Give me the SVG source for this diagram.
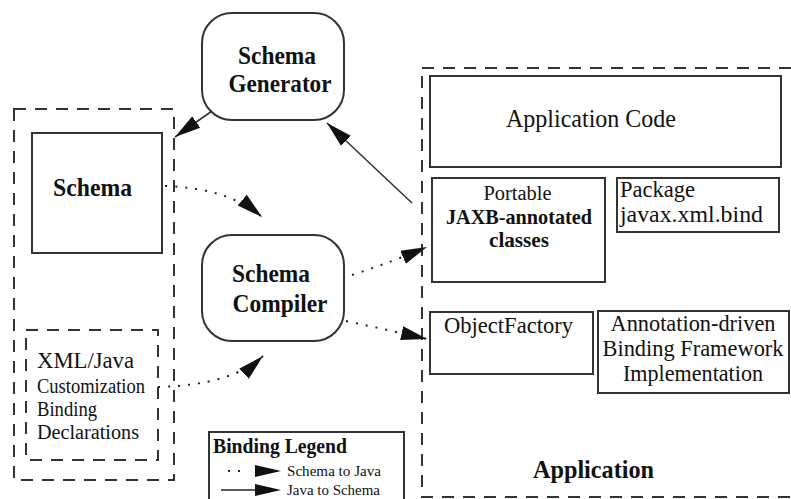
<svg xmlns="http://www.w3.org/2000/svg" width="791" height="499" viewBox="0 0 791 499">
<defs>
<style>
.box{fill:#fff;stroke:#333;stroke-width:2}
.dash{fill:none;stroke:#333;stroke-width:2;stroke-dasharray:12 9}
.rnd{fill:#fff;stroke:#333;stroke-width:2}
text{font-family:'Liberation Serif','DejaVu Serif','Times New Roman',serif;fill:#111}
.b{font-weight:bold}
.dot{fill:none;stroke:#222;stroke-width:2;stroke-dasharray:2 8}
.sol{fill:none;stroke:#333;stroke-width:1.6}
</style>
<marker id="ah" markerUnits="userSpaceOnUse" markerWidth="27" markerHeight="16" refX="26" refY="8" orient="auto">
<path d="M0,1 L26,8 L0,15 z" fill="#111"/>
</marker>
</defs>
<rect width="791" height="499" fill="#fff"/>
<g font-family="Liberation Serif, DejaVu Serif, serif">

<g id="app-container">
<rect class="dash" x="422" y="68" width="400" height="429"/>
<text class="b" x="593.5" y="478" font-size="25" text-anchor="middle" textLength="121" lengthAdjust="spacingAndGlyphs">Application</text>
</g>

<g id="schema-container">
<rect class="dash" x="14" y="109" width="160" height="371"/>
</g>

<g id="schema">
<rect class="box" x="32" y="133" width="130" height="120"/>
<text class="b" x="92.5" y="196" font-size="26" text-anchor="middle" textLength="79" lengthAdjust="spacingAndGlyphs">Schema</text>
</g>

<g id="binding-declarations">
<rect class="dash" x="26" y="330" width="132" height="130"/>
<text x="37" y="368" font-size="23" textLength="97" lengthAdjust="spacingAndGlyphs">XML/Java</text>
<text x="37" y="393" font-size="20" textLength="108" lengthAdjust="spacingAndGlyphs">Customization</text>
<text x="37" y="416" font-size="20" textLength="60" lengthAdjust="spacingAndGlyphs">Binding</text>
<text x="37" y="439" font-size="20" textLength="102" lengthAdjust="spacingAndGlyphs">Declarations</text>
</g>

<g id="schema-generator">
<rect class="rnd" x="202" y="13" width="142" height="107" rx="30" ry="30"/>
<text class="b" x="277" y="64" font-size="26" text-anchor="middle" textLength="78" lengthAdjust="spacingAndGlyphs">Schema</text>
<text class="b" x="280" y="92" font-size="26" text-anchor="middle" textLength="103" lengthAdjust="spacingAndGlyphs">Generator</text>
</g>

<g id="schema-compiler">
<rect class="rnd" x="202" y="235" width="142" height="106" rx="30" ry="30"/>
<text class="b" x="271" y="282" font-size="26" text-anchor="middle" textLength="78" lengthAdjust="spacingAndGlyphs">Schema</text>
<text class="b" x="280" y="312" font-size="26" text-anchor="middle" textLength="95" lengthAdjust="spacingAndGlyphs">Compiler</text>
</g>

<g id="application-code">
<rect class="box" x="430" y="76" width="351" height="91"/>
<text x="591" y="127" font-size="25" text-anchor="middle" textLength="170" lengthAdjust="spacingAndGlyphs">Application Code</text>
</g>

<g id="jaxb-classes">
<rect class="box" x="432" y="178" width="173" height="104"/>
<text x="517.5" y="200" font-size="20" text-anchor="middle" textLength="68" lengthAdjust="spacingAndGlyphs">Portable</text>
<text class="b" x="519" y="224" font-size="21" text-anchor="middle" textLength="146" lengthAdjust="spacingAndGlyphs">JAXB-annotated</text>
<text class="b" x="519" y="247" font-size="21" text-anchor="middle" textLength="60" lengthAdjust="spacingAndGlyphs">classes</text>
</g>

<g id="package">
<rect class="box" x="617" y="178" width="162" height="54"/>
<text x="620" y="197" font-size="24" textLength="75" lengthAdjust="spacingAndGlyphs">Package</text>
<text x="620" y="222" font-size="24" textLength="143" lengthAdjust="spacingAndGlyphs">javax.xml.bind</text>
</g>

<g id="object-factory">
<rect class="box" x="430" y="312" width="163" height="62"/>
<text x="444" y="333" font-size="24" textLength="129" lengthAdjust="spacingAndGlyphs">ObjectFactory</text>
</g>

<g id="binding-framework">
<rect class="box" x="598" y="311" width="191" height="82"/>
<text x="693" y="331" font-size="23" text-anchor="middle" textLength="165" lengthAdjust="spacingAndGlyphs">Annotation-driven</text>
<text x="693" y="356" font-size="23" text-anchor="middle" textLength="181" lengthAdjust="spacingAndGlyphs">Binding Framework</text>
<text x="693" y="381" font-size="23" text-anchor="middle" textLength="140" lengthAdjust="spacingAndGlyphs">Implementation</text>
</g>

<g id="legend">
<rect class="box" x="209" y="432" width="195" height="80"/>
<text class="b" x="213" y="453" font-size="21" textLength="134" lengthAdjust="spacingAndGlyphs">Binding Legend</text>
<rect x="228" y="470" width="2" height="2" fill="#222"/>
<rect x="238" y="470" width="2" height="2" fill="#222"/>
<polygon points="255,465 281,471 255,477" fill="#111"/>
<text x="287" y="476" font-size="15" textLength="94" lengthAdjust="spacingAndGlyphs">Schema to Java</text>
<line x1="221" y1="490" x2="258" y2="490" stroke="#222" stroke-width="1.6"/>
<polygon points="255,484 281,490 255,496" fill="#111"/>
<text x="287" y="495" font-size="15" textLength="93" lengthAdjust="spacingAndGlyphs">Java to Schema</text>
</g>

<g id="connectors">
<path class="sol" d="M212,111 L175,137" marker-end="url(#ah)"/>
<path class="sol" d="M412,203 L327,123" marker-end="url(#ah)"/>
<path class="dot" d="M165,186 Q228,188 262,217" marker-end="url(#ah)"/>
<path class="dot" d="M158,387 Q232,385 263,356" marker-end="url(#ah)"/>
<path class="dot" d="M352,275 Q392,262 427,247" marker-end="url(#ah)"/>
<path class="dot" d="M346,321 Q388,330 427,339" marker-end="url(#ah)"/>
</g>
</g>
</svg>
